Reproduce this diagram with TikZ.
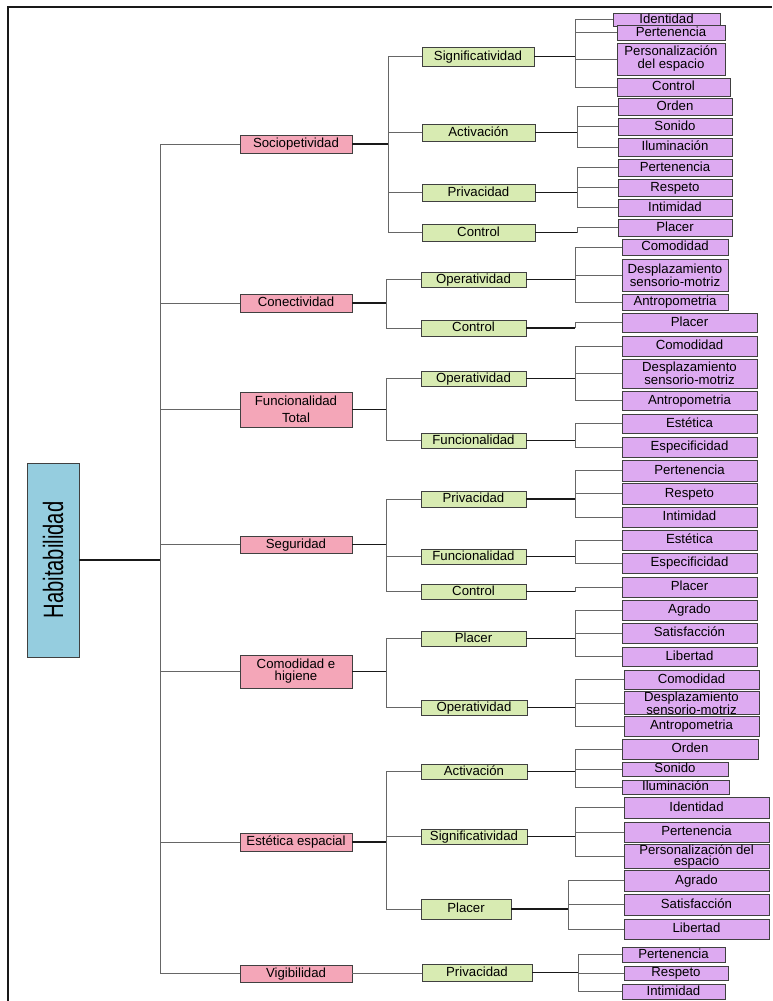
\documentclass[tikz,border=0pt]{standalone}
\usepackage{graphicx}
\usepackage{fontspec}
\setmainfont{Liberation Sans}

\definecolor{rootfill}{HTML}{95CDDF}
\definecolor{pinkfill}{HTML}{F4A6B8}
\definecolor{greenfill}{HTML}{D8EBB2}
\definecolor{violetfill}{HTML}{DDAAF1}
\definecolor{edge}{HTML}{404040}

\tikzset{
  base/.style={draw=edge, line width=0.9pt, inner sep=0pt, outer sep=0pt,
    align=center, text=black, font=\fontsize{13.2}{13}\selectfont,
    text height=9.8pt, text depth=2.4pt},
  multi/.style={text height={}, text depth={}},
  rootbox/.style={base, fill=rootfill, multi},
  levelone/.style={base, fill=pinkfill},
  leveltwo/.style={base, fill=greenfill},
  levelthree/.style={base, fill=violetfill},
  stub/.style={draw=black!90, line width=1.1pt},
  branch/.style={draw=black!60, line width=1pt},
  frame/.style={draw=black!90, line width=1.2pt},
}

% box from its corner coordinates: style, name, x1, y1, x2, y2, text
\newcommand{\boxnode}[7]{%
  \node[#1, minimum width={(#5-#3)*1pt}, minimum height={(#6-#4)*1pt}]
    (#2) at ({(#3+#5)/2},{(#4+#6)/2}) {#7};}
% short line from a parent box to its trunk
\newcommand{\stubline}[2]{\draw[stub] (#1.east) -- (#1.east -| #2);}
% trunk and branches from a parent to its children
\newcommand{\fan}[3]{\foreach \c in {#3} {\draw[branch] (#1.east -| #2) |- (\c.west);}}

\begin{document}
\begin{tikzpicture}[x=1pt,y=-1pt]
\useasboundingbox (0,0) rectangle (772,1001);
\draw[frame] (8,1001) -- (8,7) -- (772,7);

% trunk positions
\coordinate (tr160) at (160,0);
\coordinate (tr386) at (386,0);
\coordinate (tr388) at (388,0);
\coordinate (tr568) at (568,0);
\coordinate (tr575) at (575,0);
\coordinate (tr577) at (577,0);
\coordinate (tr578) at (578,0);

% root
\node[rootbox, rotate=90, minimum width=194pt, minimum height=52pt] (root) at (53,560)
  {\fontsize{28}{28}\selectfont\scalebox{0.72}[1]{Habitabilidad}};

% first level
\boxnode{levelone}{soc}{240}{135}{352}{153}{Sociopetividad}
\boxnode{levelone}{con}{240}{294}{352}{312}{Conectividad}
\boxnode{levelone, multi, font=\fontsize{13.2}{17.5}\selectfont}{fun}{240}{392}{352}{427}{Funcionalidad\\Total}
\boxnode{levelone}{seg}{240}{536}{352}{553}{Seguridad}
\boxnode{levelone, multi, font=\fontsize{13.2}{12}\selectfont}{com}{240}{655}{352}{688}{Comodidad e\\higiene}
\boxnode{levelone}{est}{240}{833}{352}{851}{Estética espacial}
\boxnode{levelone}{vig}{240}{965}{352}{982}{Vigibilidad}

% second level
\boxnode{leveltwo}{socA}{422}{47}{534}{66}{Significatividad}
\boxnode{leveltwo}{socB}{422}{124}{535}{141}{Activación}
\boxnode{leveltwo}{socC}{422}{184}{535}{201}{Privacidad}
\boxnode{leveltwo}{socD}{422}{224}{535}{241}{Control}
\boxnode{leveltwo}{conA}{421}{272}{526}{287}{Operatividad}
\boxnode{leveltwo}{conB}{421}{320}{526}{336}{Control}
\boxnode{leveltwo}{funA}{421}{371}{526}{386}{Operatividad}
\boxnode{leveltwo}{funB}{421}{433}{526}{448}{Funcionalidad}
\boxnode{leveltwo}{segA}{421}{491}{526}{507}{Privacidad}
\boxnode{leveltwo}{segB}{421}{549}{526}{564}{Funcionalidad}
\boxnode{leveltwo}{segC}{421}{584}{526}{599}{Control}
\boxnode{leveltwo}{comA}{421}{631}{526}{646}{Placer}
\boxnode{leveltwo}{comB}{421}{700}{527}{715}{Operatividad}
\boxnode{leveltwo}{estA}{421}{764}{527}{779}{Activación}
\boxnode{leveltwo}{estB}{421}{829}{527}{844}{Significatividad}
\boxnode{leveltwo}{estC}{421}{899}{511}{919}{Placer}
\boxnode{leveltwo}{vigA}{422}{964}{532}{981}{Privacidad}

% third level: Sociopetividad
\boxnode{levelthree}{socA1}{613}{13}{720}{26}{Identidad}
\boxnode{levelthree}{socA2}{617}{25}{725}{40}{Pertenencia}
\boxnode{levelthree, multi}{socA3}{617}{43}{725}{75}{Personalización\\del espacio}
\boxnode{levelthree}{socA4}{617}{78}{730}{96}{Control}
\boxnode{levelthree}{socB1}{618}{98}{732}{115}{Orden}
\boxnode{levelthree}{socB2}{618}{118}{732}{135}{Sonido}
\boxnode{levelthree}{socB3}{618}{138}{732}{156}{Iluminación}
\boxnode{levelthree}{socC1}{618}{159}{732}{176}{Pertenencia}
\boxnode{levelthree}{socC2}{618}{179}{732}{196}{Respeto}
\boxnode{levelthree}{socC3}{618}{199}{732}{216}{Intimidad}
\boxnode{levelthree}{socD1}{618}{219}{732}{236}{Placer}

% third level: Conectividad
\boxnode{levelthree}{conA1}{622}{239}{728}{255}{Comodidad}
\boxnode{levelthree, multi}{conA2}{622}{259}{728}{291}{Desplazamiento\\sensorio-motriz}
\boxnode{levelthree}{conA3}{622}{294}{728}{310}{Antropometria}
\boxnode{levelthree}{conB1}{622}{313}{757}{332}{Placer}

% third level: Funcionalidad Total
\boxnode{levelthree}{funA1}{622}{336}{757}{356}{Comodidad}
\boxnode{levelthree, multi}{funA2}{622}{359}{757}{388}{Desplazamiento\\sensorio-motriz}
\boxnode{levelthree}{funA3}{622}{391}{757}{410}{Antropometria}
\boxnode{levelthree}{funB1}{622}{414}{757}{433}{Estética}
\boxnode{levelthree}{funB2}{622}{437}{757}{457}{Especificidad}

% third level: Seguridad
\boxnode{levelthree}{segA1}{622}{460}{757}{481}{Pertenencia}
\boxnode{levelthree}{segA2}{622}{483}{757}{504}{Respeto}
\boxnode{levelthree}{segA3}{622}{507}{757}{527}{Intimidad}
\boxnode{levelthree}{segB1}{622}{530}{757}{550}{Estética}
\boxnode{levelthree}{segB2}{622}{553}{757}{573}{Especificidad}
\boxnode{levelthree}{segC1}{622}{577}{757}{597}{Placer}

% third level: Comodidad e higiene
\boxnode{levelthree}{comA1}{622}{600}{757}{620}{Agrado}
\boxnode{levelthree}{comA2}{622}{623}{757}{643}{Satisfacción}
\boxnode{levelthree}{comA3}{622}{647}{757}{666}{Libertad}
\boxnode{levelthree}{comB1}{624}{670}{759}{689}{Comodidad}
\boxnode{levelthree, multi, font=\fontsize{13.2}{11}\selectfont}{comB2}{624}{692}{759}{714}{Desplazamiento\\sensorio-motriz}
\boxnode{levelthree}{comB3}{624}{716}{759}{736}{Antropometria}

% third level: Estética espacial
\boxnode{levelthree}{estA1}{622}{739}{758}{759}{Orden}
\boxnode{levelthree}{estA2}{622}{762}{728}{776}{Sonido}
\boxnode{levelthree}{estA3}{622}{780}{729}{794}{Iluminación}
\boxnode{levelthree}{estB1}{624}{797}{769}{818}{Identidad}
\boxnode{levelthree}{estB2}{624}{822}{769}{842}{Pertenencia}
\boxnode{levelthree, multi, font=\fontsize{13.2}{11.5}\selectfont}{estB3}{624}{846}{769}{867}{Personalización del\\espacio}
\boxnode{levelthree}{estC1}{624}{870}{769}{891}{Agrado}
\boxnode{levelthree}{estC2}{624}{894}{769}{915}{Satisfacción}
\boxnode{levelthree}{estC3}{624}{919}{769}{939}{Libertad}

% third level: Vigibilidad
\boxnode{levelthree}{vigA1}{622}{947}{725}{962}{Pertenencia}
\boxnode{levelthree}{vigA2}{624}{966}{728}{980}{Respeto}
\boxnode{levelthree}{vigA3}{622}{984}{725}{999}{Intimidad}

% connectors from the root
\draw[stub] (root.south) -- (root.south -| tr160);
\foreach \c in {soc,con,fun,seg,com,est,vig}
  \draw[branch] (root.south -| tr160) |- (\c.west);

% connectors from the first level
\stubline{soc}{tr388} \fan{soc}{tr388}{socA,socB,socC,socD}
\stubline{con}{tr386} \fan{con}{tr386}{conA,conB}
\stubline{fun}{tr386} \fan{fun}{tr386}{funA,funB}
\stubline{seg}{tr386} \fan{seg}{tr386}{segA,segB,segC}
\stubline{com}{tr386} \fan{com}{tr386}{comA,comB}
\stubline{est}{tr386} \fan{est}{tr386}{estA,estB,estC}
\draw[branch] (vig.east) -- (vig.east -| vigA.west);

% connectors from the second level
\stubline{socA}{tr575} \fan{socA}{tr575}{socA1,socA2,socA3,socA4}
\stubline{socB}{tr577} \fan{socB}{tr577}{socB1,socB2,socB3}
\stubline{socC}{tr577} \fan{socC}{tr577}{socC1,socC2,socC3}
\stubline{socD}{tr577} \fan{socD}{tr577}{socD1}
\stubline{conA}{tr575} \fan{conA}{tr575}{conA1,conA2,conA3}
\stubline{conB}{tr575} \fan{conB}{tr575}{conB1}
\stubline{funA}{tr575} \fan{funA}{tr575}{funA1,funA2,funA3}
\stubline{funB}{tr575} \fan{funB}{tr575}{funB1,funB2}
\stubline{segA}{tr575} \fan{segA}{tr575}{segA1,segA2,segA3}
\stubline{segB}{tr575} \fan{segB}{tr575}{segB1,segB2}
\stubline{segC}{tr575} \fan{segC}{tr575}{segC1}
\stubline{comA}{tr575} \fan{comA}{tr575}{comA1,comA2,comA3}
\stubline{comB}{tr575} \fan{comB}{tr575}{comB1,comB2,comB3}
\stubline{estA}{tr575} \fan{estA}{tr575}{estA1,estA2,estA3}
\stubline{estB}{tr575} \fan{estB}{tr575}{estB1,estB2,estB3}
\stubline{estC}{tr568} \fan{estC}{tr568}{estC1,estC2,estC3}
\stubline{vigA}{tr578} \fan{vigA}{tr578}{vigA1,vigA2,vigA3}
\end{tikzpicture}
\end{document}
